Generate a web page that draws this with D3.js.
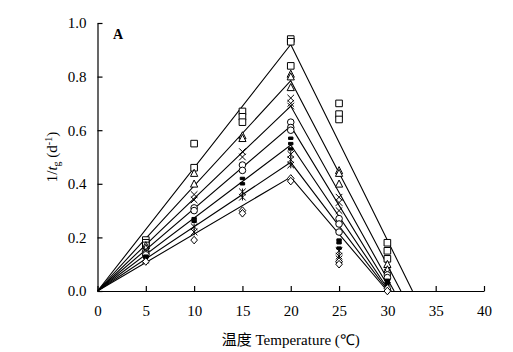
<!DOCTYPE html>
<html>
<head>
<meta charset="utf-8">
<script src="https://cdn.jsdelivr.net/npm/d3@7"></script>
<style>
  body { margin: 0; background: #fff; }
  text { font-family: "Liberation Serif", "Times New Roman", serif; fill: #000; }
</style>
</head>
<body>
<div id="canvas"></div>
<script>
// DATA
const temps = [5, 10, 15, 20, 25, 30];
const markers = ["square", "triangle", "cross", "circle", "dash", "asterisk", "diamond"];
// replicate observations per temperature, one list per series
const obsSquare   = [[0.19, 0.18, 0.17], [0.55, 0.46], [0.67, 0.65, 0.63], [0.94, 0.93, 0.84], [0.70, 0.66, 0.64], [0.18, 0.15, 0.12]];
const obsTriangle = [[0.17, 0.16], [0.44, 0.40], [0.58, 0.57], [0.81, 0.80, 0.76], [0.45, 0.44, 0.40], [0.10, 0.08]];
const obsCross    = [[0.155, 0.15], [0.36, 0.34], [0.52, 0.50], [0.72, 0.70, 0.69], [0.35, 0.33, 0.30], [0.07, 0.06]];
const obsCircle   = [[0.14, 0.135], [0.31, 0.30], [0.47, 0.45], [0.63, 0.61, 0.60], [0.27, 0.25, 0.22], [0.06, 0.05]];
const obsDash     = [[0.13, 0.125], [0.27, 0.26], [0.42, 0.40], [0.57, 0.55, 0.53], [0.19, 0.18, 0.16], [0.04, 0.03]];
const obsAsterisk = [[0.12, 0.115], [0.24, 0.22], [0.37, 0.35], [0.51, 0.49, 0.47], [0.15, 0.13, 0.12], [0.03, 0.02]];
const obsDiamond  = [[0.11], [0.19], [0.30, 0.29], [0.42, 0.41], [0.11, 0.10], [0.01, 0.0]];
const observations = [obsSquare, obsTriangle, obsCross, obsCircle, obsDash, obsAsterisk, obsDiamond];
// fitted lines: rise from 0 to peak at optimum, fall to zero at upper limit
const optTemp = 20;
const peaks = [0.92, 0.785, 0.69, 0.615, 0.545, 0.48, 0.425];
const upperLimits = [32.6, 31.4, 30.7, 30.4, 30.2, 30.1, 30.0];

const xTicks = [0, 5, 10, 15, 20, 25, 30, 35, 40];
const yTicks = [0, 0.2, 0.4, 0.6, 0.8, 1.0];

// DIMENSIONS
const width = 513, height = 352;
const margin = { top: 23, right: 29, bottom: 61, left: 97.5 };
const plot_width = width - margin.left - margin.right;
const plot_height = height - margin.top - margin.bottom;

const svg = d3.select("#canvas").append("svg")
  .attr("width", width).attr("height", height);

const plot = svg.append("g")
  .attr("transform", `translate(${margin.left},${margin.top})`);

const x = d3.scaleLinear().domain([0, 40]).range([0, plot_width]);
const y = d3.scaleLinear().domain([0, 1]).range([plot_height, 0]);

// AXES
const xAxis = plot.append("g")
  .attr("transform", `translate(0,${plot_height})`)
  .call(d3.axisBottom(x).tickValues(xTicks).tickSizeInner(-5).tickSizeOuter(0).tickPadding(14));
const yAxis = plot.append("g")
  .call(d3.axisLeft(y).tickValues(yTicks).tickFormat(d3.format(".1f")).tickSizeInner(-5).tickSizeOuter(0).tickPadding(11));

[xAxis, yAxis].forEach(a => {
  a.select(".domain").attr("stroke", "#000").attr("stroke-width", 1.2);
  a.selectAll(".tick line").attr("stroke", "#000").attr("stroke-width", 1.2);
  a.selectAll("text").style("font-family", "'Liberation Serif', serif").style("font-size", "15px").attr("fill", "#000");
});

// LINES
const line = d3.line().x(d => x(d[0])).y(d => y(d[1]));
peaks.forEach((p, i) => {
  plot.append("path")
    .datum([[0, 0], [optTemp, p], [upperLimits[i], 0]])
    .attr("d", line)
    .attr("fill", "none")
    .attr("stroke", "#000")
    .attr("stroke-width", 1.1);
});

// MARKERS
const s = 3.3;
const shapes = {
  square: `M${-s},${-s}H${s}V${s}H${-s}Z`,
  triangle: `M0,${-s - 0.5}L${s + 0.3},${s}H${-s - 0.3}Z`,
  cross: `M${-s},${-s}L${s},${s}M${s},${-s}L${-s},${s}`,
  circle: d3.symbol(d3.symbolCircle, Math.PI * s * s)(),
  dash: `M${-2.2},${-1.2}H${2.2}V${1.2}H${-2.2}Z`,
  asterisk: `M${-s},${-s}L${s},${s}M${s},${-s}L${-s},${s}M0,${-s}V${s}`,
  diamond: `M0,${-s - 0.5}L${s},0L0,${s + 0.5}L${-s},0Z`
};

observations.forEach((obs, i) => {
  const pts = [];
  obs.forEach((vals, j) => vals.forEach(v => pts.push([temps[j], v])));
  const m = markers[i];
  plot.append("g").selectAll("path")
    .data(pts)
    .join("path")
    .attr("transform", d => `translate(${x(d[0])},${y(d[1])})`)
    .attr("d", shapes[m])
    .attr("fill", m === "dash" ? "#000" : "#fff")
    .attr("stroke", "#000")
    .attr("stroke-width", 1);
});

// LABELS
svg.append("text")
  .attr("x", 113).attr("y", 39)
  .style("font-size", "14px").style("font-weight", "bold")
  .text("A");

svg.append("text")
  .attr("x", margin.left + x(20)).attr("y", 345)
  .attr("text-anchor", "middle")
  .style("font-size", "15px")
  .html('<tspan style="font-family:\'Noto Sans CJK SC\'">温度</tspan> Temperature (℃)');

svg.append("text")
  .attr("transform", `translate(57,${margin.top + y(0.5)}) rotate(-90)`)
  .attr("text-anchor", "middle")
  .style("font-size", "15px")
  .html('1/<tspan font-style="italic">t</tspan><tspan font-size="10px" dy="3">g</tspan><tspan dy="-3"> (d</tspan><tspan font-size="10px" dy="-5">-1</tspan><tspan dy="5">)</tspan>');
</script>
</body>
</html>
